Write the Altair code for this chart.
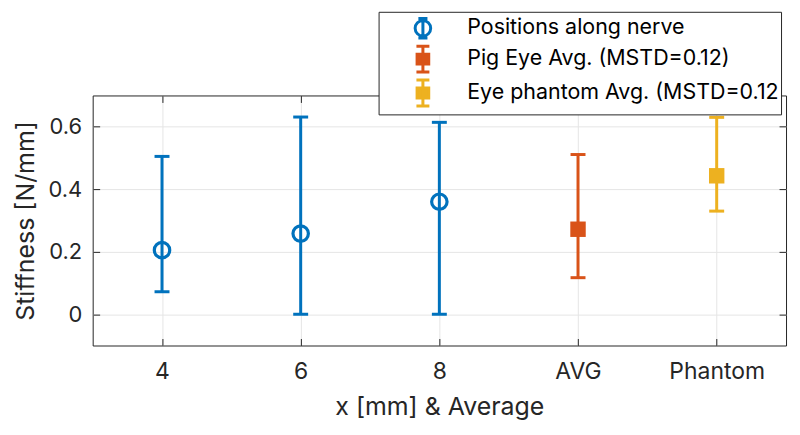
import altair as alt
import pandas as pd

categories = ["4", "6", "8", "AVG", "Phantom"]
means = [0.205, 0.258, 0.360, 0.272, 0.443]
lows = [0.072, 0.0, 0.0, 0.117, 0.330]
highs = [0.505, 0.631, 0.614, 0.511, 0.630]
series_names = ["Positions along nerve", "Pig Eye Avg. (MSTD=0.12)", "Eye phantom Avg. (MSTD=0.12"]
series = [series_names[0]] * 3 + [series_names[1], series_names[2]]
colors = ["#0072BD", "#D95319", "#EDB120"]

df = pd.DataFrame({"cat": categories, "mean": means, "low": lows, "high": highs, "series": series})

FONT = "Inter"
W, H = 696, 251
ydom = [-0.1, 0.7]

xs = alt.Scale(domain=categories, type="point", padding=0.5)
ys = alt.Scale(domain=ydom, nice=False, zero=False)

base = alt.Chart(df)

x_main = alt.X("cat:N", scale=xs, sort=categories,
               axis=alt.Axis(title="x [mm] & Average", labelAngle=0, ticks=False, domain=False,
                             grid=True, gridColor="#e5e5e5", labelPadding=15, titlePadding=11,
                             labelFontSize=23, titleFontSize=25, labelColor="#262626",
                             titleColor="#262626", labelFont=FONT, titleFont=FONT, titleFontWeight="normal"))


def y_main(field):
    return alt.Y(field, type="quantitative", scale=ys,
                 axis=alt.Axis(title="Stiffness [N/mm]", values=[0, 0.2, 0.4, 0.6], format=".1~f",
                               ticks=False, domain=False, grid=True, gridColor="#e5e5e5",
                               labelPadding=11, titlePadding=10, labelFontSize=22, titleFontSize=25,
                               labelColor="#262626", titleColor="#262626", labelFont=FONT,
                               titleFont=FONT, titleFontWeight="normal"))


# data-derived colour domain (sorted like series_names), no legend of its own
col = alt.Color("series:N", sort=series_names, scale=alt.Scale(range=colors), legend=None)

rules = base.mark_rule(strokeWidth=3, opacity=1).encode(x=x_main, y=y_main("low"), y2="high:Q", color=col)
cap_lo = base.mark_tick(orient="horizontal", size=15, thickness=3, opacity=1).encode(x=x_main, y=y_main("low"), color=col)
cap_hi = base.mark_tick(orient="horizontal", size=15, thickness=3, opacity=1).encode(x=x_main, y=y_main("high"), color=col)
circles = base.transform_filter(alt.datum.series == series_names[0]).mark_point(
    shape="circle", filled=False, size=240, strokeWidth=3.2, opacity=1).encode(x=x_main, y=y_main("mean"), color=col)
squares = base.transform_filter(alt.datum.series != series_names[0]).mark_point(
    shape="square", filled=True, size=240, opacity=1).encode(x=x_main, y=y_main("mean"), color=col)

paths = [
    "M-0.35,-0.75H0.35M0,-0.75V0.75M-0.35,0.75H0.35M0.6,0A0.6,0.6,0,1,1,-0.6,0A0.6,0.6,0,1,1,0.6,0",
    "M-0.5,-1H0.5M0,-1V1M-0.5,1H0.5M-0.45,-0.38H0.45V0.38H-0.45Z",
    "M-0.5,-1H0.5M0,-1V1M-0.5,1H0.5M-0.45,-0.38H0.45V0.38H-0.45Z",
]

leg = dict(title=None, orient="none", legendX=287, legendY=-84)

legend_layer = base.mark_point(filled=False, strokeWidth=3, size=676, opacity=0).encode(
    x=x_main,
    y=y_main("mean"),
    stroke=alt.Stroke("series:N", scale=alt.Scale(domain=series_names, range=colors), legend=alt.Legend(**leg)),
    fill=alt.Fill("series:N", scale=alt.Scale(domain=series_names, range=["transparent", colors[1], colors[2]]),
                  legend=alt.Legend(**leg)),
    shape=alt.Shape("series:N", scale=alt.Scale(domain=series_names, range=paths), legend=alt.Legend(**leg)),
)

main = alt.layer(rules, cap_lo, cap_hi, circles, squares, legend_layer)

tick_axis = dict(labels=False, domain=False, grid=False, ticks=True, tickSize=7,
                 tickColor="#262626", tickWidth=1, title=None, offset=-7)

tick_tr = base.mark_point(opacity=0).encode(
    x=alt.X("cat:N", scale=xs, sort=categories, axis=alt.Axis(orient="top", **tick_axis)),
    y=alt.Y("mean:Q", scale=ys, axis=alt.Axis(orient="right", values=[0, 0.2, 0.4, 0.6], **tick_axis)),
)
tick_bl = base.mark_point(opacity=0).encode(
    x=alt.X("cat:N", scale=xs, sort=categories, axis=alt.Axis(orient="bottom", **tick_axis)),
    y=alt.Y("mean:Q", scale=ys, axis=alt.Axis(orient="left", values=[0, 0.2, 0.4, 0.6], **tick_axis)),
)

chart = alt.layer(main, tick_tr, tick_bl).resolve_scale(
    x="independent", y="independent"
).properties(width=W, height=H, padding={"left": 5, "top": 2, "right": 5, "bottom": 5}).configure_view(
    stroke="#262626", strokeWidth=1
).configure_legend(
    labelFont=FONT, labelFontSize=21.5, labelColor="#000000", labelLimit=500,
    strokeColor="#262626", fillColor="white", padding=2, rowPadding=-12,
    symbolOffset=28, labelOffset=30, symbolSize=676, symbolStrokeWidth=3, symbolOpacity=1, cornerRadius=0,
)

chart.save("out.html", embed_options={"renderer": "svg", "actions": False})
